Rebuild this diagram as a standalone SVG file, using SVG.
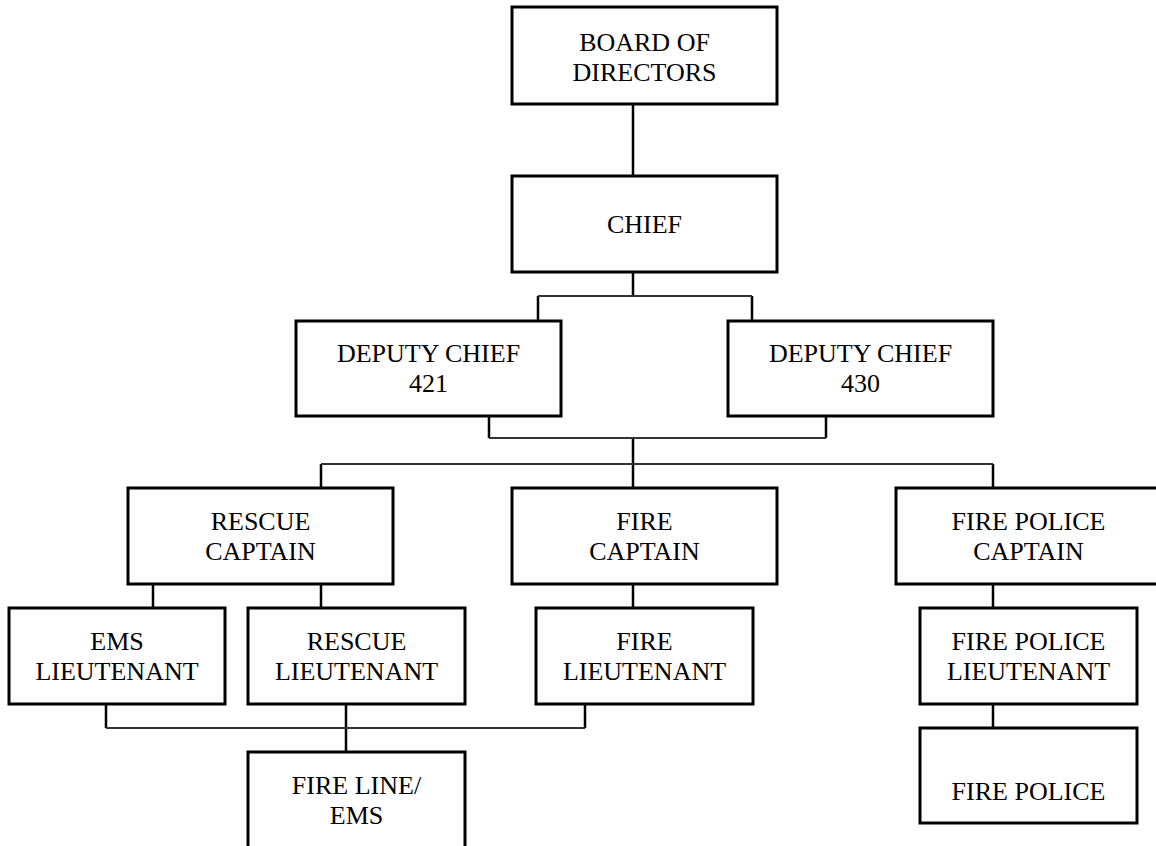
<svg xmlns="http://www.w3.org/2000/svg" width="1156" height="846" viewBox="0 0 1156 846">
<style>
.box{fill:#fff;stroke:#000;stroke-width:3}
.t{font-family:"Liberation Serif","Times New Roman",serif;font-size:26px;fill:#000;text-anchor:middle}
.c{fill:none;stroke:#000;stroke-width:2.5}
.h{fill:none;stroke:#333;stroke-width:2}
</style>
<rect width="1156" height="846" fill="#fff"/>
<g id="connectors">
<path class="c" d="M633 104V176M633 272V296M538 296V321M752 296V321M489 416V438M826 416V438M633 438V488M321 464V488M993 464V488M153 584V608M321 584V608M633 584V608M993 584V608M993 704V728M106 704V728M346 704V752M585 704V728"/>
<path class="h" d="M538 296H752M489 438H826M321 464H993M106 728H585"/>
</g>
<g id="board"><rect class="box" x="512" y="7" width="265" height="97"/><text class="t" x="644.5" y="51">BOARD OF</text><text class="t" x="644.5" y="81">DIRECTORS</text></g>
<g id="chief"><rect class="box" x="512" y="176" width="265" height="96"/><text class="t" x="644.5" y="233">CHIEF</text></g>
<g id="deputy421"><rect class="box" x="296" y="321" width="265" height="95"/><text class="t" x="428.5" y="362">DEPUTY CHIEF</text><text class="t" x="428.5" y="392">421</text></g>
<g id="deputy430"><rect class="box" x="728" y="321" width="265" height="95"/><text class="t" x="860.5" y="362">DEPUTY CHIEF</text><text class="t" x="860.5" y="392">430</text></g>
<g id="rescueCaptain"><rect class="box" x="128" y="488" width="265" height="96"/><text class="t" x="260.5" y="530">RESCUE</text><text class="t" x="260.5" y="560">CAPTAIN</text></g>
<g id="fireCaptain"><rect class="box" x="512" y="488" width="265" height="96"/><text class="t" x="644.5" y="530">FIRE</text><text class="t" x="644.5" y="560">CAPTAIN</text></g>
<g id="firePoliceCaptain"><rect class="box" x="896" y="488" width="265" height="96"/><text class="t" x="1028.5" y="530">FIRE POLICE</text><text class="t" x="1028.5" y="560">CAPTAIN</text></g>
<g id="emsLieutenant"><rect class="box" x="9" y="608" width="216" height="96"/><text class="t" x="117" y="650">EMS</text><text class="t" x="117" y="680">LIEUTENANT</text></g>
<g id="rescueLieutenant"><rect class="box" x="248" y="608" width="217" height="96"/><text class="t" x="356.5" y="650">RESCUE</text><text class="t" x="356.5" y="680">LIEUTENANT</text></g>
<g id="fireLieutenant"><rect class="box" x="536" y="608" width="217" height="96"/><text class="t" x="644.5" y="650">FIRE</text><text class="t" x="644.5" y="680">LIEUTENANT</text></g>
<g id="firePoliceLieutenant"><rect class="box" x="920" y="608" width="217" height="96"/><text class="t" x="1028.5" y="650">FIRE POLICE</text><text class="t" x="1028.5" y="680">LIEUTENANT</text></g>
<g id="firePolice"><rect class="box" x="920" y="728" width="217" height="95"/><text class="t" x="1028.5" y="800">FIRE POLICE</text></g>
<g id="fireLineEms"><rect class="box" x="248" y="752" width="217" height="100"/><text class="t" x="356.5" y="794">FIRE LINE/</text><text class="t" x="356.5" y="824">EMS</text></g>
</svg>
